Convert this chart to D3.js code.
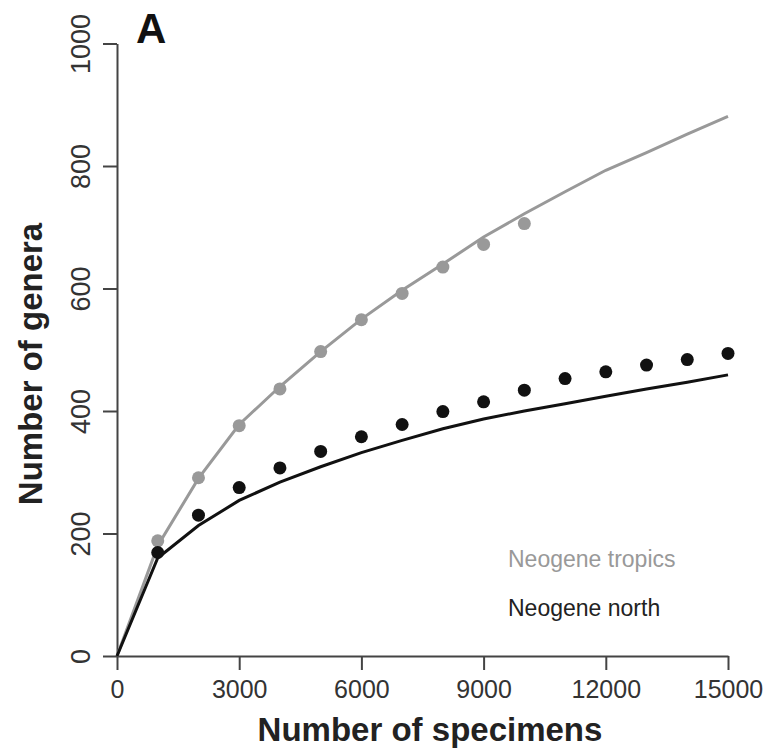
<!DOCTYPE html>
<html>
<head>
<meta charset="utf-8">
<script src="https://cdn.jsdelivr.net/npm/d3@7"></script>
<style>
  body { margin: 0; background: #fff; }
  text { font-family: "Liberation Sans", Arial, Helvetica, sans-serif; }
</style>
</head>
<body>
<script>
// sample sizes
var dotX = [1000, 2000, 3000, 4000, 5000, 6000, 7000, 8000, 9000, 10000, 11000, 12000, 13000, 14000, 15000];
// observed genera
var tropicsDots = [188, 291, 376, 436, 497, 549, 592, 635, 672, 706];
var northDots = [169, 230, 275, 307, 334, 358, 378, 399, 415, 434, 453, 464, 475, 484, 494];
// fitted curves
var curveX = [0, 1000, 2000, 3000, 4000, 5000, 6000, 7000, 8000, 9000, 10000, 11000, 12000, 13000, 14000, 15000];
var tropicsCurve = [0, 180, 290, 378, 440, 497, 550, 597, 640, 684, 722, 758, 793, 822, 852, 881];
var northCurve = [0, 160, 213, 254, 284, 309, 332, 352, 371, 387, 400, 412, 424, 436, 447, 459];
var xTicks = [0, 3000, 6000, 9000, 12000, 15000];
var yTicks = [0, 200, 400, 600, 800, 1000];

var margin = {top: 43.5, left: 117, right: 41, bottom: 93};
var W = 769, H = 749;
var width = W - margin.left - margin.right;
var height = H - margin.top - margin.bottom;

var svg = d3.select("body").append("svg")
    .attr("width", W)
    .attr("height", H);

var g = svg.append("g")
    .attr("transform", "translate(" + margin.left + "," + margin.top + ")");

var x = d3.scaleLinear().domain([0, 15000]).range([0, width]);
var y = d3.scaleLinear().domain([0, 1000]).range([height, 0]);

var axisColor = "#444";

// x axis
var xAxis = g.append("g")
    .attr("transform", "translate(0," + height + ")")
    .call(d3.axisBottom(x).tickValues(xTicks).tickFormat(d3.format("d"))
        .tickSize(14).tickSizeOuter(0).tickPadding(10));
xAxis.select(".domain").attr("stroke", axisColor).attr("stroke-width", 2);
xAxis.selectAll(".tick line").attr("stroke", axisColor).attr("stroke-width", 2);
xAxis.selectAll(".tick text")
    .attr("font-size", 25)
    .attr("fill", "#333")
    .attr("font-family", "Liberation Sans, Arial, sans-serif");

// y axis
var yAxis = g.append("g")
    .call(d3.axisLeft(y).tickValues(yTicks).tickFormat(d3.format("d"))
        .tickSize(14).tickSizeOuter(0));
yAxis.select(".domain").attr("stroke", axisColor).attr("stroke-width", 2);
yAxis.selectAll(".tick line").attr("stroke", axisColor).attr("stroke-width", 2);
yAxis.selectAll(".tick text")
    .attr("x", null).attr("dy", null)
    .attr("text-anchor", "middle")
    .attr("transform", "translate(-27,0) rotate(-90)")
    .attr("font-size", 27)
    .attr("fill", "#333")
    .attr("font-family", "Liberation Sans, Arial, sans-serif");

var line = d3.line()
    .x(function(d){ return x(d[0]); })
    .y(function(d){ return y(d[1]); });

g.append("path")
    .datum(d3.zip(curveX, tropicsCurve))
    .attr("d", line)
    .attr("fill", "none")
    .attr("stroke", "#999")
    .attr("stroke-width", 3);

g.append("path")
    .datum(d3.zip(curveX, northCurve))
    .attr("d", line)
    .attr("fill", "none")
    .attr("stroke", "#111")
    .attr("stroke-width", 3);

g.selectAll("circle.tropics")
    .data(d3.zip(dotX.slice(0, tropicsDots.length), tropicsDots))
    .enter().append("circle")
    .attr("class", "tropics")
    .attr("cx", function(d){ return x(d[0]); })
    .attr("cy", function(d){ return y(d[1]); })
    .attr("r", 6.5)
    .attr("fill", "#999");

g.selectAll("circle.north")
    .data(d3.zip(dotX, northDots))
    .enter().append("circle")
    .attr("class", "north")
    .attr("cx", function(d){ return x(d[0]); })
    .attr("cy", function(d){ return y(d[1]); })
    .attr("r", 6.5)
    .attr("fill", "#111");

// legend
svg.append("text")
    .attr("x", 508).attr("y", 567)
    .attr("font-size", 23)
    .attr("fill", "#999")
    .text("Neogene tropics");
svg.append("text")
    .attr("x", 508).attr("y", 616)
    .attr("font-size", 23)
    .attr("fill", "#222")
    .text("Neogene north");

// axis titles
svg.append("text")
    .attr("x", 430).attr("y", 741)
    .attr("text-anchor", "middle")
    .attr("font-size", 33)
    .attr("font-weight", "bold")
    .attr("fill", "#222")
    .text("Number of specimens");

svg.append("text")
    .attr("transform", "translate(42,364) rotate(-90)")
    .attr("text-anchor", "middle")
    .attr("font-size", 33)
    .attr("font-weight", "bold")
    .attr("fill", "#222")
    .text("Number of genera");

// panel letter
svg.append("text")
    .attr("x", 136).attr("y", 43)
    .attr("font-size", 42)
    .attr("font-weight", "bold")
    .attr("fill", "#111")
    .text("A");
</script>
</body>
</html>
